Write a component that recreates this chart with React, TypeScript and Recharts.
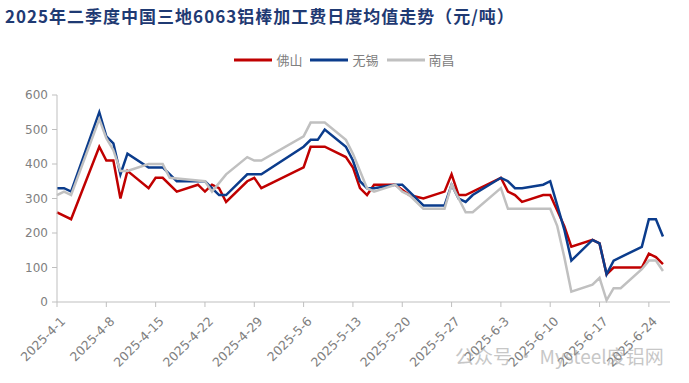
import { LineChart, Line, XAxis, YAxis } from 'recharts'

// 交易日（月-日），2025年
const dates = [
  '4-1', '4-2', '4-3', '4-7', '4-8', '4-9', '4-10', '4-11', '4-14', '4-15',
  '4-16', '4-17', '4-18', '4-21', '4-22', '4-23', '4-24', '4-25', '4-28', '4-29',
  '4-30', '5-6', '5-7', '5-8', '5-9', '5-12', '5-13', '5-14', '5-15', '5-16',
  '5-19', '5-20', '5-21', '5-23', '5-26', '5-27', '5-28', '5-29', '5-30', '6-3',
  '6-4', '6-5', '6-6', '6-9', '6-10', '6-11', '6-12', '6-13', '6-16', '6-17',
  '6-18', '6-19', '6-20', '6-23', '6-24', '6-25', '6-26',
]

const foshan = [
  260, null, 240, 450, 410, 410, 300, 380, 330, 360,
  360, null, 320, 340, 320, 340, 330, 290, 350, 360,
  330, 390, 450, null, 450, 420, 390, 330, 310, 340,
  340, null, 310, 300, 320, 370, 310, 310, null, 360,
  320, 310, 290, 310, 310, null, 220, 160, 180, 170,
  80, 100, null, 100, 140, 130, 110,
]

const wuxi = [
  330, 330, 320, 550, 480, 460, 370, 430, 390, null,
  390, null, 350, null, 350, null, 310, 310, 370, null,
  370, 450, 470, 470, 500, 450, 410, 350, 330, 330,
  340, 340, null, 280, 280, 340, 300, 290, 310, 360,
  350, 330, 330, 340, 350, 280, 210, 120, 180, 170,
  80, 120, null, 160, 240, 240, 190,
]

const nanchang = [
  310, 320, 310, 530, 475, 440, 380, 380, 400, null,
  400, 360, null, null, 350, 320, null, 370, 420, 410,
  410, 480, 520, null, 520, 470, 430, 380, 330, 320,
  340, 320, 310, 270, 270, 340, null, 260, 260, 330,
  270, null, null, null, 270, 220, 130, 30, 50, 70,
  5, 40, 40, 95, 120, 120, 90,
]

const series = [
  { key: 'fs', name: '佛山', color: '#c00000' },
  { key: 'wx', name: '无锡', color: '#0b3c8c' },
  { key: 'nc', name: '南昌', color: '#c0c0c0' },
]

const weekTicks = [0, 7, 14, 21, 28, 35, 42, 49, 56, 63, 70, 77, 84]
const yTicks = [0, 100, 200, 300, 400, 500, 600]

const monthStart: Record<number, number> = { 4: 0, 5: 30, 6: 61 }

function toDay(md: string) {
  const [m, d] = md.split('-').map(Number)
  return monthStart[m] + d - 1
}

function dayLabel(day: number) {
  if (day < 30) return `2025-4-${day + 1}`
  if (day < 61) return `2025-5-${day - 29}`
  return `2025-6-${day - 60}`
}

const rows = dates.map((d, i) => ({
  x: toDay(d),
  fs: foshan[i],
  wx: wuxi[i],
  nc: nanchang[i],
}))

const AXIS_GREY = '#bfbfbf'
const TEXT_GREY = '#808080'

function DateTick(props: any) {
  const { x, y, payload } = props
  return (
    <g transform={`translate(${x + 6},${y + 12})`}>
      <text
        x={0}
        y={0}
        dy="0.35em"
        textAnchor="end"
        transform="rotate(-45)"
        fill={TEXT_GREY}
        fontSize={12.5}
        fontFamily="DejaVu Sans, sans-serif"
      >
        {dayLabel(payload.value)}
      </text>
    </g>
  )
}

function LegendRow() {
  return (
    <div
      style={{
        position: 'absolute',
        left: 0,
        top: 50,
        width: 689,
        display: 'flex',
        justifyContent: 'center',
        alignItems: 'center',
        zIndex: 2,
      }}
    >
      {series.map((s) => (
        <div key={s.key} style={{ display: 'flex', alignItems: 'center', margin: '0 4px' }}>
          <svg width={38} height={6}>
            <line x1={0} y1={3} x2={38} y2={3} stroke={s.color} strokeWidth={3} />
          </svg>
          <span
            style={{
              marginLeft: 4,
              color: TEXT_GREY,
              fontSize: 13,
              fontFamily: 'Noto Sans CJK SC, sans-serif',
            }}
          >
            {s.name}
          </span>
        </div>
      ))}
    </div>
  )
}

export default function App() {
  return (
    <div style={{ position: 'absolute', left: 0, top: 0, width: 689, height: 383, background: '#fff' }}>
      <div
        style={{
          position: 'absolute',
          left: 5,
          top: 3,
          fontSize: 17,
          fontWeight: 'bold',
          letterSpacing: 1,
          color: '#1f3a73',
          fontFamily: 'Noto Sans CJK SC, sans-serif',
          whiteSpace: 'nowrap',
          zIndex: 2,
        }}
      >
        2025年二季度中国三地6063铝棒加工费日度均值走势（元/吨）
      </div>
      <LegendRow />
      <div
        style={{
          position: 'absolute',
          left: 455,
          top: 342,
          fontSize: 19,
          color: '#9a9a9a',
          opacity: 0.55,
          fontFamily: 'Noto Sans CJK SC, sans-serif',
          whiteSpace: 'nowrap',
          zIndex: 2,
        }}
      >
        公众号 · Mysteel废铝网
      </div>
      <LineChart
        width={689}
        height={383}
        data={rows}
        margin={{ top: 95, right: 19, bottom: 0, left: 0 }}
      >
        <XAxis
          dataKey="x"
          type="number"
          domain={[0, 87]}
          ticks={weekTicks}
          interval={0}
          height={81}
          tickSize={5}
          tickMargin={0}
          stroke={AXIS_GREY}
          tick={<DateTick />}
        />
        <YAxis
          domain={[0, 600]}
          ticks={yTicks}
          width={57}
          tickSize={5}
          tickMargin={4}
          stroke={AXIS_GREY}
          tick={{ fill: TEXT_GREY, fontSize: 12, fontFamily: 'DejaVu Sans, sans-serif' }}
        />
        {series.map((s) => (
          <Line
            key={s.key}
            dataKey={s.key}
            name={s.name}
            stroke={s.color}
            strokeWidth={2.5}
            dot={false}
            connectNulls
            isAnimationActive={false}
          />
        ))}
      </LineChart>
    </div>
  )
}
